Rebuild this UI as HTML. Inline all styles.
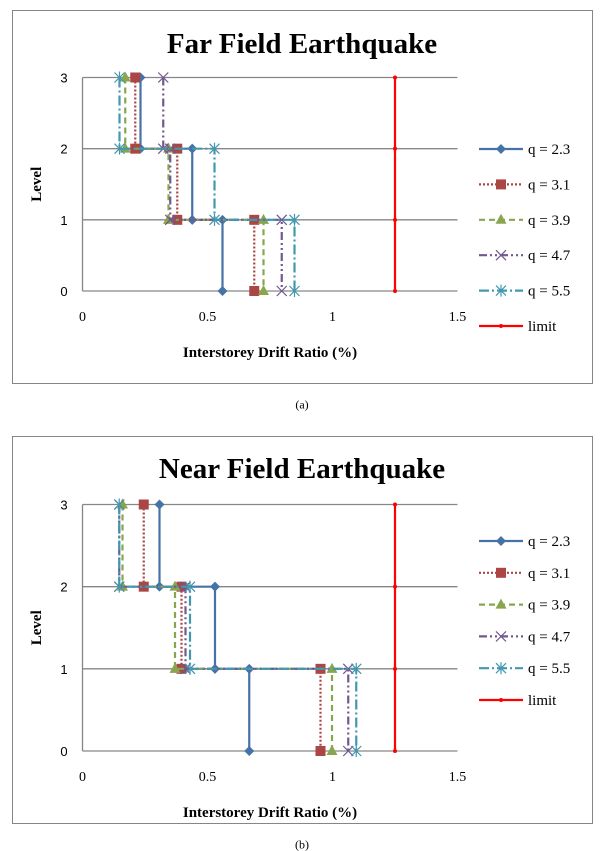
<!DOCTYPE html>
<html><head><meta charset="utf-8"><style>
html,body{margin:0;padding:0;background:#fff;}
svg{display:block;}
</style></head><body>
<svg id="svg" width="605" height="851" xmlns="http://www.w3.org/2000/svg"></svg>
<script>
const levels = [3, 2, 1, 0];
const xTicks = [0, 0.5, 1, 1.5];
const yTicks = [0, 1, 2, 3];
const seriesNames = ["q = 2.3", "q = 3.1", "q = 3.9", "q = 4.7", "q = 5.5"];
// storey drifts [storey3, storey2, storey1]
const farDrifts = [[0.232, 0.439, 0.56],[0.211, 0.379, 0.687],[0.171, 0.344, 0.724],[0.323, 0.351, 0.797],[0.148, 0.528, 0.848]];
const nearDrifts = [[0.308, 0.53, 0.667],[0.245, 0.396, 0.952],[0.16, 0.37, 0.998],[0.147, 0.412, 1.063],[0.147, 0.43, 1.095]];
const limitValue = 1.25;

const NS="http://www.w3.org/2000/svg";
const svg=document.getElementById('svg');
function mk(tag,attrs,parent){const e=document.createElementNS(NS,tag);for(const k in attrs)e.setAttribute(k,attrs[k]);(parent||svg).appendChild(e);return e;}
const styles=[
 {c:"#4572A7",d:"",m:"diamond"},
 {c:"#AA4643",d:"2,2",m:"square"},
 {c:"#89A54E",d:"6,4",m:"triangle"},
 {c:"#71588F",d:"8,3,2,3,2,3",m:"x"},
 {c:"#4198AF",d:"10,3,2,3",m:"star"}];
function marker(g,type,x,y,c){
  let e;
  if(type==="diamond"){e=mk('polygon',{points:`${x},${y-5} ${x+5},${y} ${x},${y+5} ${x-5},${y}`,fill:c},g);}
  else if(type==="square"){e=mk('rect',{x:x-5,y:y-5,width:10,height:10,fill:c},g);}
  else if(type==="triangle"){e=mk('polygon',{points:`${x},${y-6} ${x+5.5},${y+4} ${x-5.5},${y+4}`,fill:c},g);}
  else if(type==="x"){e=mk('path',{d:`M${x-5},${y-5}L${x+5},${y+5}M${x+5},${y-5}L${x-5},${y+5}`,stroke:c,'stroke-width':1.2,fill:'none'},g);}
  else if(type==="star"){e=mk('path',{d:`M${x-5},${y-5}L${x+5},${y+5}M${x+5},${y-5}L${x-5},${y+5}M${x},${y-6}L${x},${y+6}`,stroke:c,'stroke-width':1.2,fill:'none'},g);}
  else {e=mk('circle',{cx:x,cy:y,r:2,fill:c},g);}
  
  
}
function chart(cfg){
  const {frameY,frameH,title,titleY,y3,y0,caption,drifts,legY,legStep,key}=cfg;
  const x0=82.5,x15=457.5;
  const sx=v=>x0+(x15-x0)*v/1.5;
  const sy=v=>y0+(y3-y0)*v/3;
  const g=mk('g',{});
  
  mk('rect',{x:12.5,y:frameY,width:580,height:frameH,fill:'#fff',stroke:'#868686','stroke-width':1},g);
  const t=mk('text',{x:302,y:titleY,'text-anchor':'middle','font-family':'Liberation Serif, serif','font-weight':'bold','font-size':29},g);t.textContent=title;
  
  yTicks.forEach(v=>{
    const l=mk('line',{x1:x0,x2:x15,y1:sy(v),y2:sy(v),stroke:'#868686','stroke-width':1.3},g);
    
    const tt=mk('text',{x:64,y:sy(v)+5,'text-anchor':'middle','font-family':'Liberation Sans, sans-serif','font-size':13},g);tt.textContent=v;
    
  });
  const ax=mk('line',{x1:x0,x2:x0,y1:sy(3),y2:sy(0),stroke:'#868686','stroke-width':1.3},g);
  
  xTicks.forEach(v=>{
    const tt=mk('text',{x:sx(v),y:y0+30,'text-anchor':'middle','font-family':'Liberation Serif, serif','font-size':14},g);tt.textContent=v;
    
  });
  const xt=mk('text',{x:270,y:y0+66,'text-anchor':'middle','font-family':'Liberation Serif, serif','font-weight':'bold','font-size':15},g);xt.textContent="Interstorey Drift Ratio (%)";
  
  const yt=mk('text',{x:0,y:0,transform:`translate(41,${(y0+y3)/2}) rotate(-90)`,'text-anchor':'middle','font-family':'Liberation Serif, serif','font-weight':'bold','font-size':15},g);yt.textContent="Level";
  
  // series
  drifts.forEach((d,i)=>{
    const s=styles[i];
    const pts=[[d[0],3],[d[0],2],[d[1],2],[d[1],1],[d[2],1],[d[2],0]];
    const sg=mk('g',{},g);
    const p=mk('polyline',{points:pts.map(p=>sx(p[0])+','+sy(p[1])).join(' '),fill:'none',stroke:s.c,'stroke-width':2.2,'stroke-dasharray':s.d},sg);
    
    pts.forEach(p=>marker(sg,s.m,sx(p[0]),sy(p[1]),s.c));
  });
  const lg=mk('g',{},g);
  mk('line',{x1:sx(limitValue),x2:sx(limitValue),y1:sy(0),y2:sy(3),stroke:'#FF0000','stroke-width':2.2},lg);
  levels.forEach(l=>marker(lg,'dot',sx(limitValue),sy(l),'#FF0000'));
  // legend
  const names=seriesNames.concat(["limit"]);
  names.forEach((n,i)=>{
    const y=legY+i*legStep;
    const eg=mk('g',{},g);
    const c=i<5?styles[i].c:'#FF0000';
    mk('line',{x1:479,x2:523,y1:y,y2:y,stroke:c,'stroke-width':2.2,'stroke-dasharray':i<5?styles[i].d:''},eg);
    marker(eg,i<5?styles[i].m:'dot',501,y,c);
    const tt=mk('text',{x:528,y:y+5,'font-family':'Liberation Serif, serif','font-size':15},eg);tt.textContent=n;
  });
  const cap=mk('text',{x:302,y:frameY+frameH+25,'text-anchor':'middle','font-family':'Liberation Serif, serif','font-size':12},svg);cap.textContent=caption;
  
}
chart({key:'far-field',frameY:10.5,frameH:373,title:"Far Field Earthquake",titleY:53,y3:77.5,y0:291,caption:"(a)",drifts:farDrifts,legY:149,legStep:35.4});
chart({key:'near-field',frameY:436.5,frameH:387,title:"Near Field Earthquake",titleY:478,y3:504.5,y0:751,caption:"(b)",drifts:nearDrifts,legY:541,legStep:31.8});
</script>
</body></html>
